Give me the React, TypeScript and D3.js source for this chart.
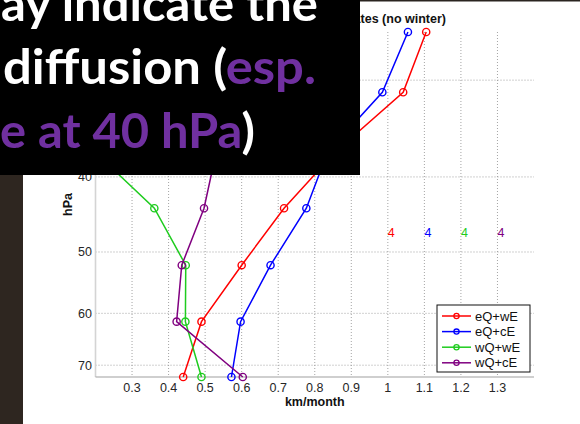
import React from "react";
import * as d3 from "d3";

// ---- data ----
const levels = [72.5, 61.5, 52.0, 43.9, 37.2, 31.1, 26.0]; // hPa
const seriesNames = ["eQ+wE", "eQ+cE", "wQ+wE", "wQ+cE"];
const eQwE = [0.44, 0.49, 0.6, 0.716, 0.855, 1.042, 1.105];
const eQcE = [0.572, 0.597, 0.679, 0.777, 0.835, 0.985, 1.055];
const wQwE = [0.49, 0.446, 0.447, 0.361, 0.2, 0.24, 0.28];
const wQcE = [0.603, 0.422, 0.436, 0.497, 0.53, 0.58, 0.62];
const seriesValues = [eQwE, eQcE, wQwE, wQcE];
const seriesColors = ["#ff0000", "#0000ff", "#1ecc1e", "#800080"];
const xTicks = [0.3, 0.4, 0.5, 0.6, 0.7, 0.8, 0.9, 1, 1.1, 1.2, 1.3];
const yTicks = [30, 40, 50, 60, 70];
const countLabels = ["4", "4", "4", "4"];
const countLabelX = [1.0, 1.1, 1.2, 1.3];
const countLabelP = 47.2;
const titleText = "Mean vertical propagation rates (no winter)";
const xLabel = "km/month";
const yLabel = "hPa";

const W = 580;
const H = 424;
const ml = 95.5, mr = 534, mt = 32, mb = 377;

export default function App() {
  const x = d3.scaleLinear().domain([0.2, 1.4]).range([ml, mr]);
  const y = d3.scaleLog().domain([d3.min(levels)!, d3.max(levels)!]).range([mt, mb]);
  const line = d3
    .line<number>()
    .x((d) => x(d))
    .y((_, i) => y(levels[i]));

  const chartFont = "'Liberation Sans', Arial, sans-serif";
  const slideFont = "Lato, 'Open Sans', sans-serif";

  return (
    <svg
      width={W}
      height={H}
      style={{ position: "absolute", left: 0, top: 0, background: "#fff" }}
      fontFamily={chartFont}
    >
      <rect x={0} y={0} width={W} height={H} fill="#ffffff" />
      <rect x={0} y={0} width={23} height={H} fill="#2e2620" />
      <rect x={360} y={0} width={W - 360} height={1.5} fill="#2a2420" />

      {/* grid */}
      {xTicks.map((t) => (
        <line
          key={"gx" + t}
          x1={x(t)}
          x2={x(t)}
          y1={mt}
          y2={mb}
          stroke="#9a9a9a"
          strokeWidth={0.9}
          strokeDasharray="1,2"
        />
      ))}
      {yTicks.map((t) => (
        <line
          key={"gy" + t}
          x1={ml}
          x2={mr}
          y1={y(t)}
          y2={y(t)}
          stroke="#9a9a9a"
          strokeWidth={0.9}
          strokeDasharray="1,2"
        />
      ))}

      {/* axes */}
      <line x1={ml} x2={ml} y1={mt} y2={mb} stroke="#d4d4d4" strokeWidth={1.6} />
      <line x1={ml} x2={mr} y1={mb} y2={mb} stroke="#a0a0a0" strokeWidth={1.2} />

      {/* tick labels */}
      {xTicks.map((t) => (
        <text
          key={"tx" + t}
          x={x(t)}
          y={392}
          fontSize={12.5}
          textAnchor="middle"
          fill="#262626"
        >
          {d3.format("~g")(t)}
        </text>
      ))}
      {yTicks.map((t) => (
        <text
          key={"ty" + t}
          x={92}
          y={y(t) + 4.5}
          fontSize={12.5}
          textAnchor="end"
          fill="#262626"
        >
          {t}
        </text>
      ))}
      <text x={(ml + mr) / 2} y={406} fontSize={12.5} fontWeight="bold" textAnchor="middle" fill="#111">
        {xLabel}
      </text>
      <text
        transform={`translate(72,${(mt + mb) / 2}) rotate(-90)`}
        fontSize={12.5}
        fontWeight="bold"
        textAnchor="middle"
        fill="#111"
      >
        {yLabel}
      </text>
      <text x={446} y={22.5} fontSize={12.5} fontWeight="bold" textAnchor="end" fill="#111">
        {titleText}
      </text>

      {/* series */}
      {seriesValues.map((vals, si) => (
        <g key={"s" + si}>
          <path d={line(vals) || ""} fill="none" stroke={seriesColors[si]} strokeWidth={1.5} />
          {vals.map((v, i) => (
            <circle
              key={i}
              cx={x(v)}
              cy={y(levels[i])}
              r={3.6}
              fill="none"
              stroke={seriesColors[si]}
              strokeWidth={1.4}
            />
          ))}
        </g>
      ))}

      {/* count labels */}
      {countLabels.map((c, i) => (
        <text
          key={"c" + i}
          x={x(countLabelX[i])}
          y={y(countLabelP) + 4.5}
          fontSize={12.5}
          fill={seriesColors[i]}
        >
          {c}
        </text>
      ))}

      {/* legend */}
      <g>
        <rect x={437} y={305} width={93} height={67} fill="#fff" stroke="#111" strokeWidth={1} />
        {seriesNames.map((n, i) => {
          const cy = 316 + i * 15.6;
          return (
            <g key={"l" + n}>
              <line x1={442} x2={471} y1={cy} y2={cy} stroke={seriesColors[i]} strokeWidth={1.5} />
              <circle cx={456.5} cy={cy} r={2.6} fill="none" stroke={seriesColors[i]} strokeWidth={1.3} />
              <text x={475} y={cy + 4.5} fontSize={13} fill="#111">
                {n}
              </text>
            </g>
          );
        })}
      </g>

      {/* slide overlay */}
      <rect x={0} y={0} width={360} height={175} fill="#000" />
      <g fontFamily={slideFont} fontWeight="bold" fontSize={48} fill="#fff">
        <text x={1} y={21} textLength={317} lengthAdjust="spacingAndGlyphs">
          ay indicate the
        </text>
        <text x={3} y={84} textLength={313} lengthAdjust="spacingAndGlyphs">
          diffusion (<tspan fill="#7030a0">esp.</tspan>
        </text>
        <text x={0} y={148} textLength={255} lengthAdjust="spacingAndGlyphs">
          <tspan fill="#7030a0">e at 40 hPa</tspan>)
        </text>
      </g>
    </svg>
  );
}
